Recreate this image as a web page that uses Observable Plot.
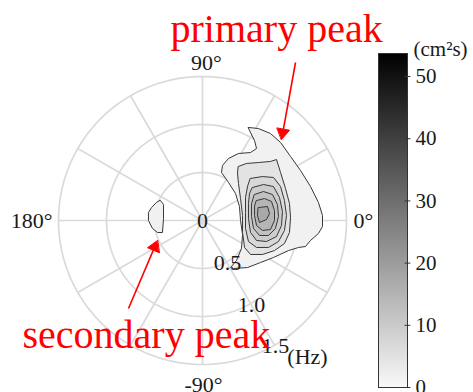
<!DOCTYPE html>
<html><head><meta charset="utf-8">
<script src="https://cdn.jsdelivr.net/npm/d3@7"></script>
<script src="https://cdn.jsdelivr.net/npm/@observablehq/plot@0.6"></script>
<style>
html,body{margin:0;padding:0;background:#fff;}
#chart{position:relative;width:473px;height:392px;overflow:hidden;}
#chart svg{position:absolute;left:0;top:0;background:none;}
#chart svg, #chart svg text{font-family:"Liberation Serif","Times New Roman",serif !important;}
</style></head><body><div id="chart"></div>
<script>
// ---------- data ----------
const freqRings = [0.5, 1.0, 1.5];                 // Hz
const ringLabels = ["0.5", "1.0", "1.5"];
const spokeDirs = [0, 30, 60, 90, 120, 150, 180, 210, 240, 270, 300, 330]; // deg
const dirLabels = ["0°", "90°", "180°", "-90°"];
const dirLabelAngles = [0, 90, 180, -90];
const contourLevels = [1.5, 4.5, 7, 9.5, 12, 14.5, 17]; // cm^2 s
// contour vertices as frequency components [f·cosθ, f·sinθ] (Hz)
const primaryL1 = [[0.479,0.969],[0.583,0.958],[0.708,0.906],[0.813,0.813],[0.917,0.667],[1.021,0.521],[1.125,0.354],[1.208,0.188],[1.25,0.052],[1.25,-0.063],[1.208,-0.135],[1.125,-0.208],[1.073,-0.271],[1.0,-0.281],[0.896,-0.313],[0.74,-0.385],[0.604,-0.438],[0.469,-0.49],[0.323,-0.5],[0.292,-0.49],[0.354,-0.417],[0.406,-0.292],[0.417,-0.146],[0.396,0],[0.385,0.146],[0.344,0.281],[0.271,0.396],[0.198,0.5],[0.208,0.573],[0.271,0.646],[0.375,0.698],[0.5,0.708],[0.563,0.75],[0.542,0.833],[0.5,0.917]];
const primaryL2 = [[0.375,0.563],[0.458,0.594],[0.583,0.604],[0.708,0.615],[0.771,0.635],[0.813,0.5],[0.865,0.333],[0.906,0.177],[0.917,0.031],[0.906,-0.125],[0.854,-0.24],[0.75,-0.313],[0.625,-0.354],[0.5,-0.354],[0.438,-0.281],[0.417,-0.125],[0.417,0.052],[0.396,0.229],[0.375,0.385],[0.365,0.49]];
const primaryL3 = [[0.5,0.438],[0.625,0.458],[0.74,0.448],[0.813,0.354],[0.854,0.208],[0.875,0.052],[0.854,-0.104],[0.792,-0.219],[0.688,-0.281],[0.563,-0.281],[0.479,-0.219],[0.448,-0.083],[0.448,0.083],[0.448,0.24],[0.469,0.354]];
const primaryL4 = [[0.521,0.344],[0.635,0.375],[0.74,0.354],[0.802,0.24],[0.833,0.094],[0.823,-0.052],[0.771,-0.167],[0.667,-0.219],[0.563,-0.208],[0.5,-0.125],[0.479,0.021],[0.479,0.177],[0.49,0.281]];
const primaryL5 = [[0.542,0.271],[0.635,0.302],[0.729,0.271],[0.781,0.167],[0.792,0.042],[0.76,-0.083],[0.688,-0.156],[0.594,-0.156],[0.531,-0.083],[0.51,0.042],[0.51,0.167]];
const primaryL6 = [[0.563,0.208],[0.646,0.229],[0.719,0.198],[0.75,0.104],[0.75,0],[0.708,-0.094],[0.625,-0.104],[0.563,-0.052],[0.542,0.052],[0.542,0.146]];
const primaryL7 = [[0.583,0.135],[0.677,0.146],[0.698,0.073],[0.667,0.01],[0.594,-0.021],[0.573,0.052]];
const secondaryL1 = [[-0.438,0.208],[-0.406,0.167],[-0.406,0.021],[-0.417,-0.125],[-0.469,-0.125],[-0.521,-0.083],[-0.563,0],[-0.563,0.083],[-0.531,0.135],[-0.479,0.188]];
const colorTicks = [0, 10, 20, 30, 40, 50];
const colorMax = 53.7;
const colorUnit = "(cm²s)";
const annotationTexts = ["primary peak", "secondary peak"];
const annotationTextPos = [[-0.333, 1.99], [-1.875, -1.19]];     // Hz components
const arrowFrom = [[0.969, 1.646], [-0.771, -0.917]];
const arrowTo = [[0.823, 0.844], [-0.469, -0.208]];

// ---------- derived ----------
const rad = d => d * Math.PI / 180;
const ringPts = freqRings.flatMap(r => d3.range(0, 361, 2).map(a => ({r, x: r * Math.cos(rad(a)), y: r * Math.sin(rad(a))})));
const outer = d3.max(freqRings);
const primary = [primaryL1, primaryL2, primaryL3, primaryL4, primaryL5, primaryL6, primaryL7];
const contourRows = [
  ...secondaryL1.map(([fx, fy]) => ({id: "s0", level: contourLevels[0], fx, fy})),
  ...primary.flatMap((pts, i) => pts.map(([fx, fy]) => ({id: "p" + i, level: contourLevels[i], fx, fy})))
];
const arrows = arrowFrom.map((f, i) => {
  const t = arrowTo[i];
  const dx = t[0] - f[0], dy = t[1] - f[1], L = Math.hypot(dx, dy);
  const ux = dx / L, uy = dy / L, hl = 0.11, hw = 0.066;
  const bx = t[0] - ux * hl, by = t[1] - uy * hl;
  return {f, t, b: [bx, by], head: [[t[0], t[1]], [bx - uy * hw, by + ux * hw], [bx + uy * hw, by - ux * hw]]};
});
const heads = arrows.flatMap((a, i) => a.head.map(([x, y]) => ({i, x, y})));

const colorScale = {type: "linear", domain: [0, colorMax], range: ["#f8f8f8", "#000000"], interpolate: "rgb"};
const W = 473, H = 392, cx = 202, cy = 220, k = 96;
const font = "Liberation Serif";
const ink = "#1a1a1a";

// direction label placement (pixel offsets & anchors): 0°, 90°, 180°, -90°
const dirLabelStyle = [
  {dx: 7, dy: 0, textAnchor: "start"},
  {dx: 4, dy: -14, textAnchor: "middle"},
  {dx: -6, dy: 0, textAnchor: "end"},
  {dx: 1, dy: 20, textAnchor: "middle"}
];
const dirLabelMarks = dirLabels.map((lab, i) => Plot.text([lab], {
  x: () => outer * Math.cos(rad(dirLabelAngles[i])),
  y: () => outer * Math.sin(rad(dirLabelAngles[i])),
  text: d => d, fontSize: 22, fontFamily: font, fill: ink, ...dirLabelStyle[i]
}));

const main = Plot.plot({
  width: W, height: H, margin: 0,
  x: {domain: [-cx / k, (W - cx) / k], axis: null},
  y: {domain: [-(H - cy) / k, cy / k], axis: null},
  color: colorScale,
  style: {fontFamily: font, background: "transparent"},
  marks: [
    Plot.line(ringPts, {x: "x", y: "y", z: "r", curve: "linear-closed", stroke: "#dadada", strokeWidth: 1.7}),
    Plot.link(spokeDirs, {x1: () => 0, y1: () => 0, x2: d => outer * Math.cos(rad(d)), y2: d => outer * Math.sin(rad(d)), stroke: "#dadada", strokeWidth: 1.7}),
    Plot.line(contourRows, {x: "fx", y: "fy", z: "id", fill: "level", stroke: "#383838", strokeWidth: 1, curve: "linear-closed"}),
    ...dirLabelMarks,
    Plot.text(["0"], {x: () => 0, y: () => 0, text: d => d, fontSize: 22, fontFamily: font, fill: ink}),
    Plot.text(ringLabels, {x: (d, i) => freqRings[i] * Math.cos(rad(-60)), y: (d, i) => freqRings[i] * Math.sin(rad(-60)), text: d => d, dx: 1, dy: 1, fontSize: 22, fontFamily: font, fill: ink}),
    Plot.text(["(Hz)"], {x: () => outer * Math.cos(rad(-60)), y: () => outer * Math.sin(rad(-60)), text: d => d, dx: 33, dy: 12, fontSize: 22, fontFamily: font, fill: ink}),
    Plot.link(arrows, {x1: d => d.f[0], y1: d => d.f[1], x2: d => d.b[0], y2: d => d.b[1], stroke: "#ff0000", strokeWidth: 1.6}),
    Plot.line(heads, {x: "x", y: "y", z: "i", curve: "linear-closed", fill: "#ff0000", stroke: "#ff0000", strokeWidth: 1}),
    Plot.text(annotationTexts, {x: (d, i) => annotationTextPos[i][0], y: (d, i) => annotationTextPos[i][1], text: d => d, textAnchor: "start", fontSize: 40, fontFamily: font, fill: "#ff0000"})
  ]
});

const step = colorMax / 334;
const steps = d3.range(0, colorMax, step);
const bar = Plot.plot({
  width: W, height: H, marginLeft: 378, marginRight: 66, marginTop: 53, marginBottom: 5,
  x: {domain: [0, 1], axis: null},
  y: {domain: [0, colorMax], axis: null},
  color: colorScale,
  style: {fontFamily: font, background: "transparent"},
  marks: [
    Plot.rect(steps, {x1: () => 0, x2: () => 1, y1: d => d, y2: d => Math.min(colorMax, d + step * 1.2), fill: d => d, shapeRendering: "crispEdges"}),
    Plot.frame({stroke: "#333", strokeWidth: 1}),
    Plot.link(colorTicks, {x1: () => 0.9, x2: () => 1.1, y1: d => d, y2: d => d, stroke: "#333", strokeWidth: 1}),
    Plot.text(colorTicks, {x: () => 1, y: d => d, text: d => String(d), dx: 8, textAnchor: "start", fontSize: 21, fontFamily: font, fill: ink}),
    Plot.text([colorUnit], {x: () => 1, y: () => colorMax, text: d => d, dx: 6, dy: -4, textAnchor: "start", fontSize: 21, fontFamily: font, fill: ink})
  ]
});

const el = document.getElementById("chart");
el.appendChild(main);
el.appendChild(bar);
</script></body></html>
